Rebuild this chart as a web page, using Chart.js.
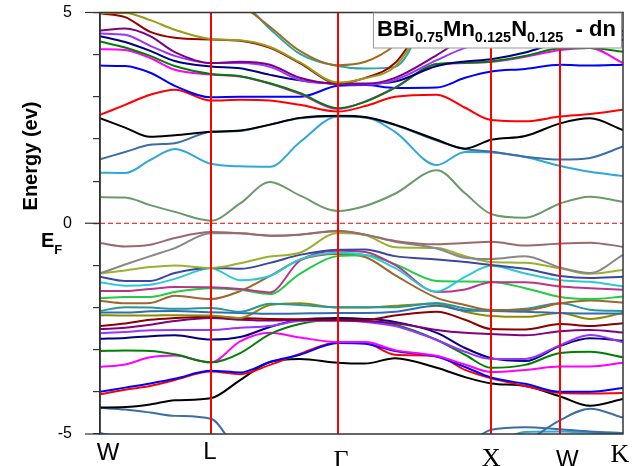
<!DOCTYPE html>
<html>
<head>
<meta charset="utf-8">
<title>BBi0.75Mn0.125N0.125 - dn</title>
<script src="https://cdn.jsdelivr.net/npm/chart.js@4.4.1/dist/chart.umd.min.js"></script>
<style>
  html, body { margin: 0; padding: 0; background: #ffffff; }
  #wrap { width: 640px; height: 466px; }
</style>
</head>
<body>
<div id="wrap"><canvas id="bands" width="640" height="466"></canvas></div>
<script>
// ===========================
// DATA
// ===========================

// k-path positions (fraction of total path length) where energies were read
const kPoints = [0, 0.048, 0.096, 0.143, 0.212, 0.268, 0.325, 0.382, 0.455,
  0.507, 0.564, 0.644, 0.698, 0.748, 0.813, 0.880, 0.937, 1];

// high-symmetry points
const kTicks = [0, 0.212, 0.455, 0.748, 0.880, 1];
const kLabels = ["W", "L", "Γ", "X", "W", "K"];

// energy axis (eV)
const yTickLabels = [5, 0, -5];

// conduction bands (eV)
const bandOlive = [4.99, 4.99, 4.82, 4.59, 4.37, 4.34, 4.18, 3.82, 3.34, 3.44, 3.72, 5.15, 5.5, 5.6, 5.6, 5.6, 5.6, 5.6];
const bandMaroon = [4.98, 4.89, 4.54, 4.40, 4.36, 4.33, 4.16, 3.80, 3.32, 3.45, 3.80, 5.2, 5.6, 5.6, 5.6, 5.6, 5.6, 5.6];
const bandGold = [5.6, 5.6, 5.6, 5.6, 5.6, 5.2, 4.66, 4.09, 3.75, 3.83, 4.23, 5.3, 5.6, 5.6, 5.6, 5.6, 5.6, 5.6];
const bandTealUp = [5.6, 5.6, 5.6, 5.6, 5.6, 5.3, 4.61, 4.02, 3.73, 3.67, 3.71, 5.3, 5.6, 5.6, 5.6, 5.6, 5.6, 5.6];
const bandPurple = [4.57, 4.62, 4.44, 4.06, 3.80, 3.83, 3.76, 3.45, 3.31, 3.31, 3.45, 3.99, 4.40, 4.59, 4.70, 4.78, 4.70, 4.56];
const bandViolet = [4.50, 4.47, 4.21, 3.97, 3.80, 3.80, 3.71, 3.40, 3.31, 3.29, 3.40, 3.87, 4.16, 4.30, 4.40, 4.51, 4.59, 4.47];
const bandNavy = [4.44, 4.30, 4.09, 3.85, 3.72, 3.68, 3.52, 3.39, 3.31, 3.31, 3.36, 3.73, 3.84, 3.89, 4.05, 4.30, 4.40, 4.35];
const bandGreen = [4.31, 4.17, 3.97, 3.73, 3.54, 3.49, 3.32, 3.09, 2.73, 2.88, 3.21, 3.78, 3.81, 3.84, 3.97, 4.15, 4.16, 4.07];
const bandMagenta = [4.13, 4.11, 3.92, 3.64, 3.53, 3.48, 3.31, 3.07, 2.71, 2.89, 3.22, 3.77, 3.80, 3.83, 3.95, 4.11, 4.16, 3.80];
const bandBlue = [3.74, 3.73, 3.57, 3.26, 2.99, 3.00, 3.00, 3.00, 3.26, 3.28, 3.21, 3.22, 3.45, 3.60, 3.66, 3.76, 3.74, 3.76];
const bandRed = [2.57, 2.81, 3.05, 3.17, 2.91, 2.93, 2.91, 2.81, 2.65, 2.78, 3.00, 3.05, 2.74, 2.45, 2.42, 2.53, 2.59, 2.69];
const bandBlack = [2.49, 2.27, 2.05, 2.09, 2.17, 2.20, 2.34, 2.50, 2.55, 2.52, 2.34, 1.98, 1.77, 1.98, 2.07, 2.37, 2.49, 2.21];
const bandSteel = [1.52, 1.69, 1.86, 1.90, 2.17, 2.19, 2.34, 2.49, 2.54, 2.51, 2.33, 1.96, 1.76, 1.70, 1.58, 1.51, 1.55, 1.82];
const bandSky = [1.20, 1.19, 1.50, 1.76, 1.41, 1.35, 1.34, 1.92, 2.53, 2.51, 2.17, 1.38, 1.69, 1.68, 1.57, 1.36, 1.22, 1.12];
const bandSage = [0.62, 0.61, 0.43, 0.27, 0.06, 0.47, 0.98, 0.66, 0.29, 0.41, 0.70, 1.26, 0.71, 0.22, 0.13, 0.47, 0.63, 0.51];

// valence bands (eV)
const bandRosy = [-0.47, -0.55, -0.51, -0.35, -0.21, -0.24, -0.29, -0.27, -0.18, -0.27, -0.42, -0.50, -0.47, -0.44, -0.53, -0.48, -0.46, -0.56];
const bandGrey = [-1.19, -0.98, -0.78, -0.59, -0.24, -0.24, -0.30, -0.27, -0.19, -0.27, -0.44, -0.60, -0.82, -0.85, -0.78, -1.05, -1.18, -0.75];
const bandLime = [-1.19, -1.12, -1.04, -1.00, -1.06, -0.95, -0.79, -0.70, -0.23, -0.28, -0.57, -0.59, -0.78, -0.92, -0.94, -1.07, -1.20, -1.11];
const bandSlate = [-1.27, -1.37, -1.37, -1.18, -1.06, -1.08, -0.94, -0.75, -0.63, -0.62, -0.78, -0.86, -0.92, -0.99, -1.08, -1.25, -1.30, -1.27];
const bandCyan = [-1.40, -1.48, -1.46, -1.32, -1.07, -1.35, -1.25, -0.86, -0.70, -0.75, -1.06, -1.62, -1.27, -1.01, -1.19, -1.35, -1.39, -1.50];
const bandPlum = [-1.61, -1.61, -1.56, -1.51, -1.52, -1.56, -1.64, -0.89, -0.65, -0.68, -0.99, -1.63, -1.57, -1.40, -1.40, -1.50, -1.54, -1.58];
const bandLeaf = [-1.78, -1.75, -1.75, -1.63, -1.54, -1.58, -1.68, -1.20, -0.78, -0.76, -0.97, -1.37, -1.38, -1.39, -1.54, -1.75, -1.80, -1.74];
const bandUmber = [-1.84, -1.90, -1.89, -1.72, -1.80, -1.61, -1.25, -0.87, -0.73, -0.80, -1.23, -1.77, -1.94, -2.06, -2.06, -1.90, -1.83, -1.88];
const bandTealLow = [-2.08, -1.99, -2.00, -2.03, -2.01, -2.10, -1.91, -1.94, -1.99, -1.99, -1.99, -1.89, -2.02, -2.07, -2.03, -1.90, -2.05, -2.08];
const bandSteelMid = [-2.12, -2.12, -2.09, -2.08, -2.11, -2.13, -2.15, -2.14, -2.13, -2.13, -2.10, -1.96, -2.07, -2.08, -2.10, -2.13, -2.14, -2.14];
const bandOliveLow = [-2.18, -2.19, -2.19, -2.18, -2.19, -2.25, -1.94, -1.90, -2.00, -2.00, -1.96, -1.91, -2.10, -2.20, -2.22, -2.13, -2.27, -2.13];
const bandMaroonLow = [-2.44, -2.38, -2.29, -2.25, -2.22, -2.25, -2.27, -2.28, -2.29, -2.29, -2.19, -2.10, -2.29, -2.51, -2.52, -2.39, -2.44, -2.37];
const bandPurpleLow = [-2.51, -2.48, -2.41, -2.32, -2.25, -2.29, -2.31, -2.29, -2.31, -2.32, -2.37, -2.53, -2.60, -2.63, -2.66, -2.56, -2.53, -2.59];
const bandVioletLow = [-2.61, -2.58, -2.54, -2.53, -2.53, -2.48, -2.44, -2.32, -2.31, -2.34, -2.44, -2.77, -3.05, -3.22, -3.22, -2.89, -2.65, -2.82];
const bandNavyLow = [-2.74, -2.72, -2.68, -2.66, -2.76, -2.70, -2.46, -2.29, -2.25, -2.27, -2.34, -2.60, -2.96, -3.20, -3.27, -2.91, -2.73, -2.79];
const bandGreenLow = [-3.03, -3.02, -3.03, -3.11, -3.30, -3.08, -2.63, -2.39, -2.29, -2.32, -2.41, -2.77, -3.12, -3.43, -3.36, -3.08, -3.05, -3.18];
const bandMagentaLow = [-3.41, -3.35, -3.18, -3.14, -3.30, -2.80, -2.60, -2.71, -2.82, -2.82, -3.01, -3.15, -3.35, -3.53, -3.48, -3.40, -3.40, -3.31];
const bandBlueLow = [-4.00, -3.90, -3.80, -3.69, -3.50, -3.54, -3.29, -3.12, -2.84, -2.86, -3.03, -3.17, -3.41, -3.66, -3.81, -4.00, -4.00, -3.91];
const bandRedLow = [-4.06, -3.95, -3.86, -3.72, -3.52, -3.58, -3.36, -3.10, -2.83, -2.84, -3.12, -3.15, -3.48, -3.68, -3.86, -4.03, -4.04, -4.03];
const bandBlackLow = [-4.37, -4.36, -4.30, -4.20, -4.15, -3.72, -3.29, -3.22, -3.31, -3.33, -3.20, -3.43, -3.65, -3.80, -3.86, -4.11, -4.33, -4.17];
const bandSteelLowA = [-4.38, -4.42, -4.49, -4.57, -4.64, -5.45, -5.6, -5.6, -5.6, -5.6, -5.6, -5.6, -5.6, -5.6, -5.6, -5.6, -5.6, -5.6];
const bandSteelLowB = [-5.6, -5.6, -5.6, -5.6, -5.6, -5.6, -5.6, -5.6, -5.6, -5.6, -5.6, -5.6, -5.3, -4.90, -4.84, -4.89, -4.94, -4.98];
const bandSteelLowC = [-5.6, -5.6, -5.6, -5.6, -5.6, -5.6, -5.6, -5.6, -5.6, -5.6, -5.6, -5.6, -5.6, -5.6, -5.2, -4.67, -4.40, -4.61];
const bandSkyLow = [-4.97, -5.15, -5.6, -5.6, -5.6, -5.6, -5.6, -5.6, -5.6, -5.6, -5.6, -5.6, -5.6, -5.3, -4.95, -4.94, -4.97, -5.0];

// ===========================
// STYLE
// ===========================

const SANS = '"Liberation Sans", Arial, sans-serif';
const SERIF = '"Liberation Serif", "Times New Roman", serif';

const series = [
  [bandOlive, "#9a9a16"], [bandMaroon, "#990000"], [bandGold, "#a3691f"],
  [bandTealUp, "#2aa6a6"], [bandPurple, "#800080"], [bandViolet, "#9933ff"],
  [bandNavy, "#000080"], [bandGreen, "#008000"], [bandMagenta, "#ff00ff"],
  [bandBlue, "#0000ff"], [bandRed, "#ff0000"], [bandBlack, "#000000"],
  [bandSteel, "#3a6ea5"], [bandSky, "#2fa8d8"], [bandSage, "#6a9a6a"],
  [bandRosy, "#9a6a6a"], [bandGrey, "#888888"], [bandLime, "#9cb030"],
  [bandSlate, "#3a48a0"], [bandCyan, "#2cc8d8"], [bandPlum, "#b8358a"],
  [bandLeaf, "#22cc44"], [bandUmber, "#a0642c"], [bandTealLow, "#2a9696"],
  [bandSteelMid, "#2e6db4"], [bandOliveLow, "#8c8c00"], [bandMaroonLow, "#8b0000"],
  [bandPurpleLow, "#800080"], [bandVioletLow, "#9933ff"], [bandNavyLow, "#000080"],
  [bandGreenLow, "#008000"], [bandMagentaLow, "#ff00ff"], [bandBlueLow, "#0000ff"],
  [bandRedLow, "#ff0000"], [bandBlackLow, "#000000"], [bandSteelLowA, "#3a6ea5"],
  [bandSteelLowB, "#3a6ea5"], [bandSteelLowC, "#3a6ea5"], [bandSkyLow, "#2fa8d8"]
];

// ===========================
// DATASETS
// ===========================

const fermiLine = {
  data: [{ x: kTicks[0], y: 0 }, { x: kTicks[kTicks.length - 1], y: 0 }],
  borderColor: "#e00000",
  borderWidth: 1,
  borderDash: [5, 3],
  pointRadius: 0,
};

const bandSets = series.map(([vals, color]) => ({
  data: vals.map((e, i) => ({ x: kPoints[i], y: e })),
  borderColor: color,
  borderWidth: 2,
  pointRadius: 0,
  fill: false,
  cubicInterpolationMode: "monotone",
}));

// ===========================
// EXTRA DRAWING (lines, labels, box)
// ===========================

function subText(ctx, parts, x, base, big, small, drop) {
  parts.forEach(([t, sub]) => {
    ctx.font = sub ? small : big;
    ctx.fillText(t, x, sub ? base + drop : base);
    x += ctx.measureText(t).width;
  });
}

const decorations = {
  id: "decorations",
  afterDatasetsDraw(chart) {
    const { ctx, chartArea: a, scales } = chart;
    const x = scales.x;
    const y = scales.y;
    ctx.save();

    // red lines at L, Γ, X, W
    ctx.strokeStyle = "#ff0000";
    ctx.lineWidth = 2;
    kTicks.slice(1, -1).forEach((k) => {
      const px = Math.round(x.getPixelForValue(k));
      ctx.beginPath();
      ctx.moveTo(px, a.top);
      ctx.lineTo(px, a.bottom);
      ctx.stroke();
    });

    // frame
    ctx.strokeStyle = "#333333";
    ctx.lineWidth = 1.5;
    ctx.strokeRect(a.left, a.top, a.right - a.left, a.bottom - a.top);

    // long ticks at labelled energies
    ctx.lineWidth = 1.2;
    yTickLabels.forEach((v) => {
      const py = y.getPixelForValue(v);
      ctx.beginPath();
      ctx.moveTo(a.left - 15, py);
      ctx.lineTo(a.left, py);
      ctx.stroke();
    });

    // k-point labels
    ctx.fillStyle = "#000000";
    ctx.textAlign = "center";
    ctx.textBaseline = "alphabetic";
    const shift = [8, -1, 3, 0, 7, -3];
    const base = [460, 459, 468, 466, 467, 462];
    const serif = [false, false, true, true, false, true];
    kLabels.forEach((lab, i) => {
      ctx.font = serif[i] ? "26px " + SERIF : "24px " + SANS;
      ctx.fillText(lab, x.getPixelForValue(kTicks[i]) + shift[i], base[i]);
    });

    // axis title
    ctx.save();
    ctx.translate(31, 156);
    ctx.rotate(-Math.PI / 2);
    ctx.font = "bold 20px " + SANS;
    ctx.textBaseline = "middle";
    ctx.fillText("Energy (ev)", 0, 0);
    ctx.restore();

    ctx.textAlign = "left";
    subText(ctx, [["E", false], ["F", true]], 41, 247,
      "bold 20px " + SANS, "bold 13px " + SANS, 7);

    // title box
    ctx.fillStyle = "#ffffff";
    ctx.fillRect(373.5, 13, 248, 35);
    ctx.strokeStyle = "#999999";
    ctx.lineWidth = 1;
    ctx.strokeRect(373.5, 13, 248, 35);
    ctx.fillStyle = "#000000";
    subText(ctx, [["BBi", false], ["0.75", true], ["Mn", false], ["0.125", true],
      ["N", false], ["0.125", true], ["  - dn", false]], 377, 36,
      "bold 22px " + SANS, "bold 14.5px " + SANS, 5.5);

    ctx.restore();
  },
};

// ===========================
// CHART
// ===========================

new Chart(document.getElementById("bands"), {
  type: "line",
  data: { datasets: [fermiLine, ...bandSets] },
  options: {
    responsive: false,
    animation: false,
    devicePixelRatio: 1,
    layout: { padding: { left: 0, right: 17, top: 12.5, bottom: 32 } },
    plugins: { legend: { display: false }, tooltip: { enabled: false } },
    scales: {
      x: {
        type: "linear",
        min: 0,
        max: 1,
        display: false,
      },
      y: {
        min: -5,
        max: 5,
        afterFit: (scale) => {
          // keep the plot box where the reference has it
          scale.width = 100;
          scale.paddingTop = 0;
          scale.paddingBottom = 0;
        },
        border: { display: true, color: "#333333", width: 1.5 },
        grid: { drawOnChartArea: false, tickLength: 7, color: "#333333", lineWidth: 1.2 },
        ticks: {
          stepSize: 0.5,
          padding: 21,
          color: "#000000",
          font: { family: SANS, size: 16 },
          callback: (v) => (yTickLabels.includes(v) ? String(v) : ""),
        },
      },
    },
  },
  plugins: [decorations],
});
</script>
</body>
</html>
